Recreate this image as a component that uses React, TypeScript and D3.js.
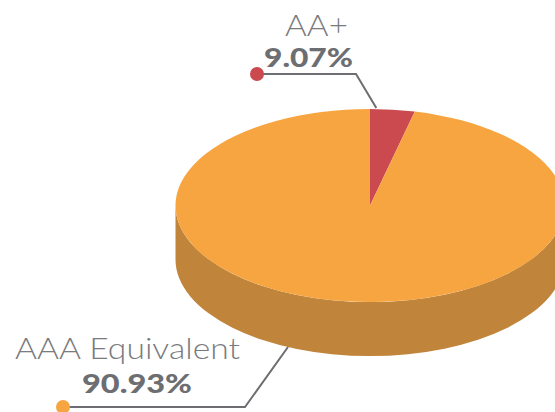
import React from "react";
import * as d3 from "d3";

const categories = ["AA+", "AAA Equivalent"];
const percentLabels = ["9.07%", "90.93%"];
// slice shares as drawn in the reference picture
const sliceShares = [3.7, 96.3];
const colors = ["#CB4A50", "#F7A541"];
const sideColors = ["#A33B40", "#C0843A"];

const W = 555;
const H = 412;
const cx = 370;
const cy = 205.5;
const rx = 194.5;
const ry = 96.5;
const depth = 54;

function P(t: number, dy = 0): [number, number] {
  return [cx + rx * Math.sin(t), cy - ry * Math.cos(t) + dy];
}

export default function App() {
  const pie = d3
    .pie<number>()
    .sort(null)
    .startAngle(0)
    .endAngle(2 * Math.PI)(sliceShares);

  const arcGen = d3.arc<d3.PieArcDatum<number>>().innerRadius(0).outerRadius(rx);

  const sides = pie
    .map((d, i) => {
      const s = Math.max(d.startAngle, Math.PI / 2);
      const e = Math.min(d.endAngle, (3 * Math.PI) / 2);
      if (s >= e) return null;
      const [x0, y0] = P(s);
      const [x1, y1] = P(e);
      const [x2, y2] = P(e, depth);
      const [x3, y3] = P(s, depth);
      const large = e - s > Math.PI ? 1 : 0;
      const dstr = `M${x0},${y0} A${rx},${ry} 0 ${large} 1 ${x1},${y1} L${x2},${y2} A${rx},${ry} 0 ${large} 0 ${x3},${y3} Z`;
      return <path key={"s" + i} d={dstr} fill={sideColors[i]} />;
    })
    .filter(Boolean);

  const gray = "#6D6E71";
  const font = "Lato, 'Open Sans', sans-serif";

  const redEnd = P(pie[0].startAngle + 0.012);
  const orangeEndX = 288;
  const orangeEndY =
    cy + depth + ry * Math.sqrt(1 - Math.pow((orangeEndX - cx) / rx, 2));

  return (
    <svg
      width={W}
      height={H}
      style={{ position: "absolute", left: 0, top: 0, display: "block" }}
    >
      <rect width={W} height={H} fill="#ffffff" />
      {sides}
      <g transform={`translate(${cx},${cy}) scale(1,${ry / rx})`}>
        {pie.map((d, i) => (
          <path key={"t" + i} d={arcGen(d) || ""} fill={colors[i]} />
        ))}
      </g>

      <polyline
        points={`257,74 356,74 ${redEnd[0] + 4},${redEnd[1] - 1}`}
        fill="none"
        stroke={gray}
        strokeWidth={2}
      />
      <circle cx={257} cy={74} r={7} fill={colors[0]} />
      <text
        x={285}
        y={36}
        textLength={63}
        lengthAdjust="spacingAndGlyphs"
        fontFamily={font}
        fontWeight={300}
        fontSize={29}
        fill="#7A7B7E"
      >
        {categories[0]}
      </text>
      <text
        x={264}
        y={67}
        textLength={89}
        lengthAdjust="spacingAndGlyphs"
        fontFamily={font}
        fontWeight={900}
        fontSize={27}
        fill={gray}
      >
        {percentLabels[0]}
      </text>

      <polyline
        points={`63,407 245,407 ${orangeEndX},${orangeEndY}`}
        fill="none"
        stroke={gray}
        strokeWidth={2}
      />
      <circle cx={63} cy={407} r={7} fill={colors[1]} />
      <text
        x={15}
        y={359}
        textLength={225}
        lengthAdjust="spacingAndGlyphs"
        fontFamily={font}
        fontWeight={300}
        fontSize={29}
        fill="#7A7B7E"
      >
        {categories[1]}
      </text>
      <text
        x={82}
        y={393}
        textLength={110}
        lengthAdjust="spacingAndGlyphs"
        fontFamily={font}
        fontWeight={900}
        fontSize={27}
        fill={gray}
      >
        {percentLabels[1]}
      </text>
    </svg>
  );
}
